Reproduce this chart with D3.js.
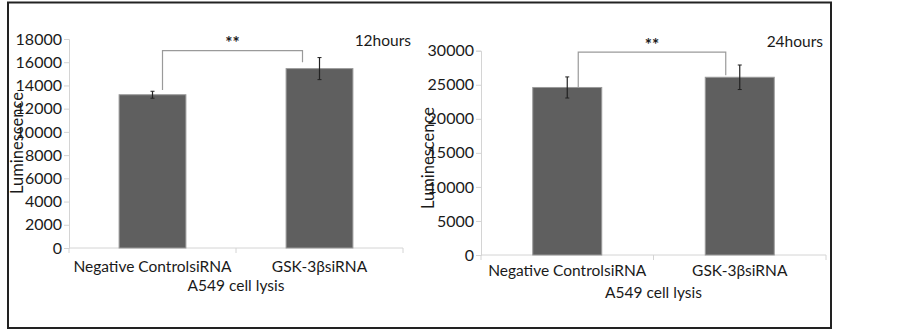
<!DOCTYPE html>
<html><head><meta charset="utf-8">
<script src="https://cdn.jsdelivr.net/npm/d3@7"></script>
<style>
html,body{margin:0;padding:0;background:#fff;}
svg{display:block;}
text{font-family:Lato,"Open Sans",sans-serif;fill:#1a1a1a;}
</style></head>
<body>
<svg id="chart" width="903" height="331"></svg>
<script>
// ---- data ----
const categories = ["Negative ControlsiRNA", "GSK-3βsiRNA"];
const xTitle = "A549 cell lysis";
const yTitle = "Luminescence";

const labels = ["12hours", "24hours"];
const values12 = [13200, 15450];
const errors12 = [300, 950];
const ticks12 = [0, 2000, 4000, 6000, 8000, 10000, 12000, 14000, 16000, 18000];

const values24 = [24600, 26100];
const errors24 = [1550, 1800];
const ticks24 = [0, 5000, 10000, 15000, 20000, 25000, 30000];

// significance bracket: [bracket level, left leg bottom, right leg bottom]
const bracket12 = [17000, 13600, 16000];
const bracket24 = [29800, 24600, 26400];
const sigMark = "**";

// ---- layout ----
const svg = d3.select("#chart");
svg.append("rect").attr("x", 8).attr("y", 2.5).attr("width", 823).attr("height", 325.5)
  .attr("fill", "none").attr("stroke", "#222").attr("stroke-width", 2);

const panels = [
  {label: labels[0], values: values12, errors: errors12, ticks: ticks12, bracket: bracket12,
   x0: 69, x1: 403, yTop: 39, yBot: 248, max: 18000, labelX: 411, labelY: 46,
   yTitleX: 17, yTitleY: 143, catY: 272, titleY: 291, starY: 49, legOff: [10, -17]},
  {label: labels[1], values: values24, errors: errors24, ticks: ticks24, bracket: bracket24,
   x0: 481, x1: 826, yTop: 50.7, yBot: 255, max: 30000, labelX: 823, labelY: 47,
   yTitleX: 428, yTitleY: 158, catY: 276, titleY: 298, starY: 51, legOff: [11, -14]}
];

const axisColor = "#d4d4d4";

panels.forEach(p => {
  const g = svg.append("g");
  const x = d3.scaleBand().domain(categories).range([p.x0, p.x1]).paddingInner(0.6).paddingOuter(0.3);
  const y = d3.scaleLinear().domain([0, p.max]).range([p.yBot, p.yTop]);

  // y axis
  const ya = g.append("g").attr("transform", `translate(${p.x0},0)`)
    .call(d3.axisLeft(y).tickValues(p.ticks).tickSize(5).tickPadding(2).tickFormat(d3.format("d")));
  ya.selectAll("path,line").attr("stroke", axisColor);
  ya.selectAll("text").style("font-size", "16px").style("font-family", "Lato,sans-serif").attr("fill", "#1a1a1a");

  // x axis line + boundary ticks
  g.append("line").attr("x1", p.x0).attr("x2", p.x1).attr("y1", p.yBot).attr("y2", p.yBot)
    .attr("stroke", axisColor).attr("stroke-width", 1);
  const bounds = [p.x0, (p.x0 + p.x1) / 2, p.x1];
  g.selectAll(".xt").data(bounds).enter().append("line")
    .attr("x1", d => d).attr("x2", d => d).attr("y1", p.yBot).attr("y2", p.yBot + 5)
    .attr("stroke", axisColor);

  // bars
  g.selectAll(".bar").data(categories).enter().append("rect")
    .attr("x", d => x(d)).attr("width", x.bandwidth())
    .attr("y", (d, i) => y(p.values[i])).attr("height", (d, i) => p.yBot - y(p.values[i]))
    .attr("fill", "#5f5f5f").attr("stroke", "#9a9a9a").attr("stroke-width", 1);

  // error bars
  categories.forEach((c, i) => {
    const cx = x(c) + x.bandwidth() / 2;
    const hi = y(p.values[i] + p.errors[i]), lo = y(p.values[i] - p.errors[i]);
    g.append("line").attr("x1", cx).attr("x2", cx).attr("y1", hi).attr("y2", lo).attr("stroke", "#222").attr("stroke-width", 1.2);
    [hi, lo].forEach(yy => g.append("line").attr("x1", cx - 2).attr("x2", cx + 2).attr("y1", yy).attr("y2", yy).attr("stroke", "#222").attr("stroke-width", 1));
  });

  // bracket
  const lx = x(categories[0]) + x.bandwidth() / 2 + p.legOff[0];
  const rx = x(categories[1]) + x.bandwidth() / 2 + p.legOff[1];
  g.append("path")
    .attr("d", `M${lx},${y(p.bracket[1])}V${y(p.bracket[0])}H${rx}V${y(p.bracket[2])}`)
    .attr("fill", "none").attr("stroke", "#9a9a9a").attr("stroke-width", 1.2);
  g.append("text").attr("x", (lx + rx) / 2).attr("y", p.starY).attr("text-anchor", "middle")
    .style("font-size", "17px").style("font-weight", "bold").attr("fill", "#1d2b3a").text(sigMark);

  // category labels
  g.selectAll(".cat").data(categories).enter().append("text")
    .attr("x", d => x(d) + x.bandwidth() / 2).attr("y", p.catY).attr("text-anchor", "middle")
    .style("font-size", "15.5px").text(d => d);
  // x title
  g.append("text").attr("x", (p.x0 + p.x1) / 2).attr("y", p.titleY).attr("text-anchor", "middle")
    .style("font-size", "15.5px").text(xTitle);
  // y title
  g.append("text").attr("transform", `translate(${p.yTitleX},${p.yTitleY}) rotate(-90)`)
    .attr("text-anchor", "middle").attr("dy", "0.35em").style("font-size", "16.5px").text(yTitle);
  // time label
  g.append("text").attr("x", p.labelX).attr("y", p.labelY).attr("text-anchor", "end")
    .style("font-size", "15.5px").text(p.label);
});
</script>
</body></html>
